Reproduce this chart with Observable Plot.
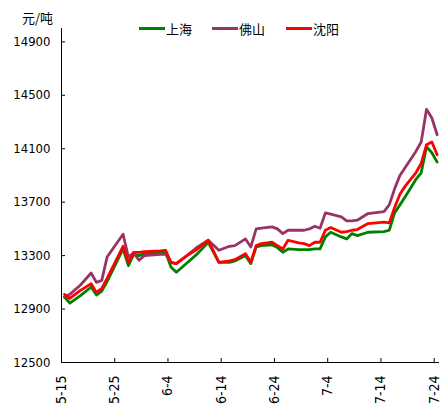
<!DOCTYPE html>
<html><head><meta charset="utf-8">
<script src="https://cdn.jsdelivr.net/npm/d3@7"></script>
<script src="https://cdn.jsdelivr.net/npm/@observablehq/plot@0.6"></script>
<style>
body{margin:0;background:#fff;}
#wrap{position:relative;width:448px;height:417px;overflow:hidden;}
.unit{position:absolute;left:22px;top:8px;font:13px "Noto Sans CJK SC",sans-serif;color:#000;}
.lg{position:absolute;top:20px;height:17px;display:flex;align-items:center;font:13px "Noto Sans CJK SC",sans-serif;color:#000;}
.sw{width:26px;height:3px;margin-right:1px;}
</style>
</head><body>
<div id="wrap"></div>
<script>
const dates = ["05-15","05-16","05-18","05-20","05-21","05-22","05-23","05-26","05-27","05-28","05-29","05-30",
  "06-02","06-03","06-04","06-05","06-07","06-09","06-11","06-13","06-15","06-16","06-18","06-19","06-20","06-21",
  "06-23","06-24","06-25","06-26","06-28","06-29","06-30","07-01","07-02","07-03","07-04","07-06","07-07","07-08",
  "07-09","07-11","07-14","07-15","07-16","07-17","07-18","07-20","07-21","07-22","07-23","07-24"];
const shanghai = [12990,12945,13000,13065,13005,13035,13105,13350,13225,13310,13300,13315,
  13320,13325,13215,13175,13245,13315,13400,13250,13250,13260,13300,13240,13365,13375,
  13380,13360,13325,13350,13345,13345,13345,13350,13350,13440,13475,13440,13425,13465,
  13450,13475,13480,13490,13620,13680,13740,13870,13920,14115,14070,14000];
const foshan = [12990,13010,13080,13170,13100,13115,13290,13460,13290,13320,13265,13300,
  13310,13310,13250,13240,13300,13365,13415,13340,13370,13375,13425,13365,13500,13505,
  13515,13500,13465,13490,13490,13490,13500,13520,13505,13620,13610,13590,13560,13560,
  13565,13615,13630,13680,13800,13900,13960,14080,14150,14395,14330,14205];
const shenyang = [13010,12980,13040,13090,13025,13055,13130,13370,13250,13325,13325,13330,
  13335,13340,13250,13240,13300,13350,13415,13250,13260,13270,13315,13250,13375,13390,
  13400,13375,13350,13415,13395,13390,13375,13400,13400,13490,13510,13475,13480,13490,
  13495,13540,13550,13545,13660,13760,13820,13920,13990,14130,14150,14055];
const seriesNames = ["上海","佛山","沈阳"];
const seriesColors = ["#008000","#993366","#ff0000"];
const yTicks = [12500,12900,13300,13700,14100,14500,14900];
const xTickLabels = ["5-15","5-25","6-4","6-14","6-24","7-4","7-14","7-24"];
const unitLabel = "元/吨";
const YEAR = 2013;

const parse = s => { const [m, d] = s.split("-").map(Number); return new Date(Date.UTC(YEAR, m - 1, d)); };
const rows = [];
[shanghai, foshan, shenyang].forEach((vals, i) =>
  vals.forEach((v, j) => rows.push({date: parse(dates[j]), value: v, series: seriesNames[i]})));
const xTicks = xTickLabels.map(parse);
const xDomain = [parse("5-15"), parse("7-25")];

const W = 448, H = 417, mL = 61, mR = 9, mT = 28, mB = 55;
const chart = Plot.plot({
  width: W, height: H, marginLeft: mL, marginRight: mR, marginTop: mT, marginBottom: mB,
  style: {fontFamily: '"Liberation Sans Narrow","DejaVu Sans Condensed",sans-serif', fontSize: "13px", color: "#000", background: "#fff"},
  x: {type: "utc", domain: xDomain},
  y: {domain: [12500, 15000]},
  color: {domain: seriesNames, range: seriesColors},
  marks: [
    Plot.axisY({ticks: yTicks, tickSize: 0, tickPadding: 11, tickFormat: d => String(d), label: null}),
    Plot.axisX({ticks: xTicks, tickSize: 0, tickRotate: -90, tickPadding: 13, fontSize: 14,
      tickFormat: d => `${d.getUTCMonth() + 1}-${d.getUTCDate()}`, label: null}),
    Plot.tickY(yTicks, {y: d => d, insetRight: W - mL - mR - 4, stroke: "#000"}),
    Plot.tickX(xTicks, {x: d => d, insetTop: H - mT - mB - 4, stroke: "#000"}),
    Plot.ruleX([xDomain[0]], {stroke: "#000"}),
    Plot.ruleY([12500], {stroke: "#000"}),
    ...seriesNames.map(s => Plot.line(rows.filter(r => r.series === s),
      {x: "date", y: "value", stroke: "series", strokeWidth: 2.8, dx: 3}))
  ]
});
const wrap = document.getElementById("wrap");
wrap.appendChild(chart);

const unit = document.createElement("div");
unit.className = "unit"; unit.textContent = unitLabel;
wrap.appendChild(unit);
const lgLeft = [139, 212, 286];
seriesNames.forEach((s, i) => {
  const item = document.createElement("div");
  item.className = "lg";
  item.style.left = lgLeft[i] + "px";
  const sw = document.createElement("span");
  sw.className = "sw"; sw.style.background = seriesColors[i];
  const t = document.createElement("span");
  t.textContent = s;
  item.appendChild(sw); item.appendChild(t);
  wrap.appendChild(item);
});
</script>
</body></html>
